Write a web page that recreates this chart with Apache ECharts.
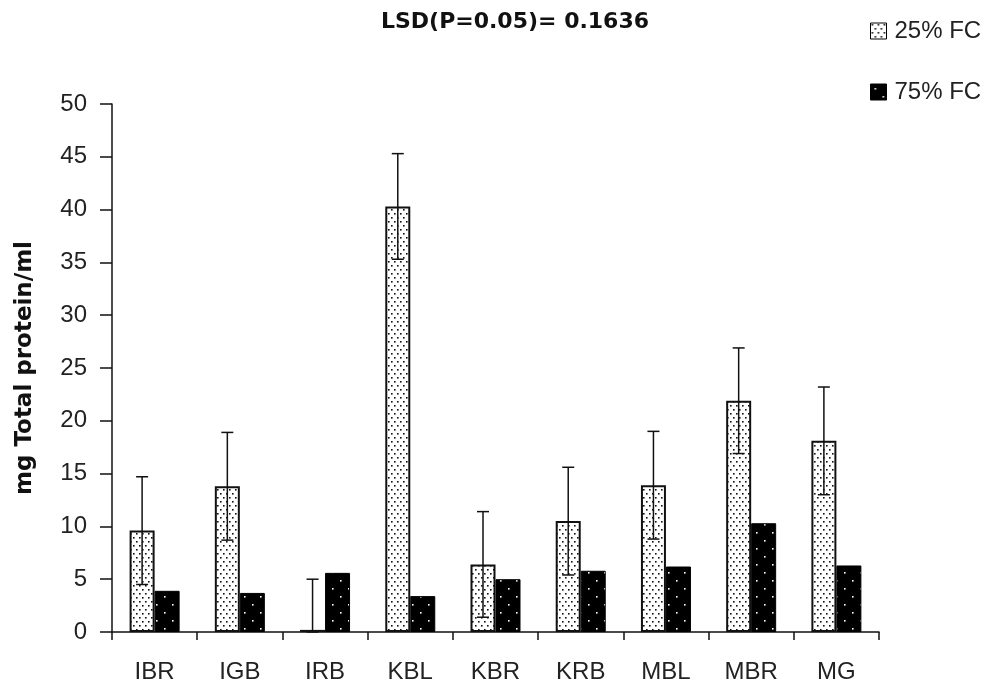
<!DOCTYPE html>
<html>
<head>
<meta charset="utf-8">
<script src="https://cdn.jsdelivr.net/npm/echarts@6/dist/echarts.min.js"></script>
<style>html,body{margin:0;padding:0;background:#fff}#c{width:999px;height:685px}</style>
</head>
<body>
<div id="c"></div>
<script>
// ---- data ----
const categories = ['IBR', 'IGB', 'IRB', 'KBL', 'KBR', 'KRB', 'MBL', 'MBR', 'MG'];
const fc25 = [9.6, 13.8, 0.2, 40.3, 6.4, 10.5, 13.9, 21.9, 18.1];
const fc75 = [3.9, 3.7, 5.6, 3.4, 5.0, 5.8, 6.2, 10.3, 6.3];
const fc25Err = [5.1, 5.1, 4.8, 5.0, 5.0, 5.1, 5.1, 5.0, 5.1];
const yTicks = { min: 0, max: 50, interval: 5 };
const titleText = 'LSD(P=0.05)= 0.1636';
const yName = 'mg Total protein/ml';
const seriesNames = ['25% FC', '75% FC'];

// ---- patterns ----
function pattern25() {
  const c = document.createElement('canvas');
  c.width = 6; c.height = 8;
  const g = c.getContext('2d');
  g.fillStyle = '#fff'; g.fillRect(0, 0, 6, 8);
  g.fillStyle = '#111';
  g.fillRect(1, 1, 1.6, 1.6);
  g.fillRect(4, 5, 1.6, 1.6);
  return { image: c, repeat: 'repeat' };
}
function pattern75() {
  const c = document.createElement('canvas');
  c.width = 16; c.height = 16;
  const g = c.getContext('2d');
  g.fillStyle = '#000'; g.fillRect(0, 0, 16, 16);
  g.fillStyle = '#fff';
  g.fillRect(4, 4, 1.6, 1.6);
  g.fillRect(12, 12, 1.6, 1.6);
  return { image: c, repeat: 'repeat' };
}

const errData = categories.map((c, i) => [i, Math.max(0, fc25[i] - fc25Err[i]), fc25[i] + fc25Err[i]]);
const BAR_W = 25;

const chart = echarts.init(document.getElementById('c'), null, { renderer: 'canvas' });
chart.setOption({
  animation: false,
  backgroundColor: '#fff',
  textStyle: { fontFamily: 'Liberation Sans' },
  graphic: [{
    type: 'text', x: 515, y: 22,
    style: {
      text: titleText, font: 'bold 22px "DejaVu Sans"', fill: '#111',
      align: 'center', verticalAlign: 'middle'
    }
  }],
  legend: {
    orient: 'vertical', left: 870, top: 19, padding: 0,
    itemWidth: 16, itemHeight: 16, itemGap: 37,
    icon: 'rect',
    data: seriesNames,
    itemStyle: { borderColor: '#000', borderWidth: 1 },
    textStyle: { fontFamily: 'Liberation Sans', fontSize: 24, color: '#222', padding: [0, 0, 0, 3] }
  },
  grid: { left: 112, right: 120, top: 104, bottom: 53, containLabel: false },
  xAxis: {
    type: 'category', data: categories,
    axisLine: { lineStyle: { color: '#111', width: 1.5 } },
    axisTick: { show: true, length: 8, lineStyle: { color: '#111', width: 1.5 } },
    axisLabel: { fontSize: 24, color: '#222', margin: 28, fontFamily: 'Liberation Sans' }
  },
  yAxis: {
    type: 'value', min: yTicks.min, max: yTicks.max, interval: yTicks.interval,
    name: yName, nameLocation: 'middle', nameGap: 75, nameRotate: 90,
    nameTextStyle: { fontFamily: 'DejaVu Sans', fontWeight: 'bold', fontSize: 23, color: '#111' },
    axisLine: { show: true, lineStyle: { color: '#111', width: 1.5 } },
    axisTick: { show: true, length: 12, lineStyle: { color: '#111', width: 1.5 } },
    splitLine: { show: false },
    axisLabel: { fontSize: 24, color: '#222', margin: 25, fontFamily: 'Liberation Sans' }
  },
  series: [
    {
      name: seriesNames[0], type: 'bar', data: fc25, barWidth: BAR_W, barGap: '0%',
      itemStyle: { color: pattern25(), borderColor: '#111', borderWidth: 2 }
    },
    {
      name: seriesNames[1], type: 'bar', data: fc75, barWidth: BAR_W, barGap: '0%',
      itemStyle: { color: pattern75(), borderColor: '#000', borderWidth: 1 }
    },
    {
      type: 'custom', name: 'err', data: errData, z: 10,
      renderItem: function (params, api) {
        const i = api.value(0);
        const lo = api.coord([i, api.value(1)]);
        const hi = api.coord([i, api.value(2)]);
        const x = lo[0] - BAR_W / 2;
        const cap = 6;
        const st = { stroke: '#111', lineWidth: 1.5 };
        return {
          type: 'group',
          children: [
            { type: 'line', shape: { x1: x, y1: lo[1], x2: x, y2: hi[1] }, style: st },
            { type: 'line', shape: { x1: x - cap, y1: hi[1], x2: x + cap, y2: hi[1] }, style: st },
            { type: 'line', shape: { x1: x - cap, y1: lo[1], x2: x + cap, y2: lo[1] }, style: st }
          ]
        };
      }
    }
  ]
});
</script>
</body>
</html>
